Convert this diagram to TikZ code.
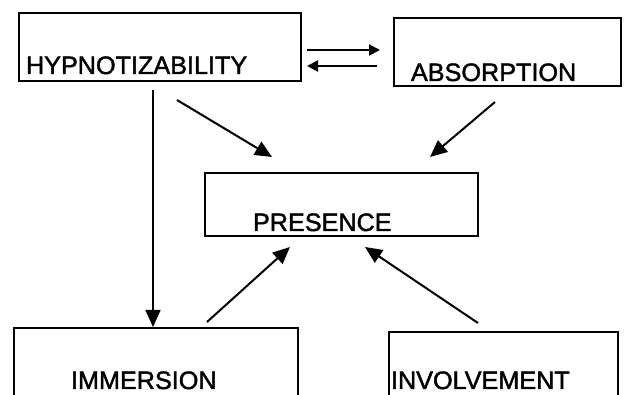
\documentclass[tikz,border=0pt]{standalone}
\usepackage{fontspec}
\setsansfont[FakeBold=1.6]{Liberation Sans}
\usetikzlibrary{
  arrows.meta,
  calc,
}

\begin{document}
\begin{tikzpicture}[
  x=0.5pt, y=-0.5pt,
  box/.style={
    draw=black, line width=1pt, inner sep=0pt, align=left, anchor=north west,
    font=\sffamily\fontsize{12.6}{14}\selectfont, text=black,
  },
  link/.style={
    -{Triangle[length=8.5pt,width=7.5pt]}, line width=1pt,
  },
  swaplink/.style={
    -{Triangle[length=5.5pt,width=5.5pt]}, line width=1pt,
  },
]
  \useasboundingbox (0,0) rectangle (627,395);
  \clip (0,0) rectangle (627,395);

  % --- boxes ---
  \node[box, text width=141pt, text height=30.5pt, text depth=3.5pt] (hyp) at (18,12) {\hspace*{3.5pt}HYPNOTIZABILITY};
  \node[box, text width=113.5pt, text height=31.5pt, text depth=2.5pt] (abs) at (393,17) {\hspace*{8.5pt}ABSORPTION};
  \node[box, text width=136.5pt, text height=29pt, text depth=2.5pt] (pres) at (204,172) {\hspace*{24pt}PRESENCE};
  \node[box, text width=142pt, text height=30.5pt, text depth=16pt] (imm) at (13,327) {\hspace*{28.5pt}IMMERSION};
  \node[box, text width=114.5pt, text height=28.5pt, text depth=16pt] (inv) at (388,331) {\hspace*{1pt}INVOLVEMENT};

  % --- two-way link ---
  \draw[swaplink] ($(hyp.north east)+(5,38)$) -- ($(abs.north west)+(-13,33)$);
  \draw[swaplink] ($(abs.north west)+(-16,49)$) -- ($(hyp.north east)+(5,54)$);

  % --- into presence ---
  \draw[link] ($(hyp.south west)+(159,18)$) -- ($(pres.north west)+(68,-15)$);
  \draw[link] ($(abs.south west)+(102,15)$) -- ($(pres.north east)+(-49,-15)$);
  \draw[link] ($(imm.north west)+(194,-5)$) -- ($(pres.south west)+(86,10)$);
  \draw[link] ($(inv.north west)+(90,-8)$) -- ($(pres.south west)+(161,10)$);

  % --- hypnotizability to immersion ---
  \draw[link, line width=0.8pt] ($(hyp.south west)+(135,8)$) -- ($(imm.north west)+(140,0)$);
\end{tikzpicture}
\end{document}
